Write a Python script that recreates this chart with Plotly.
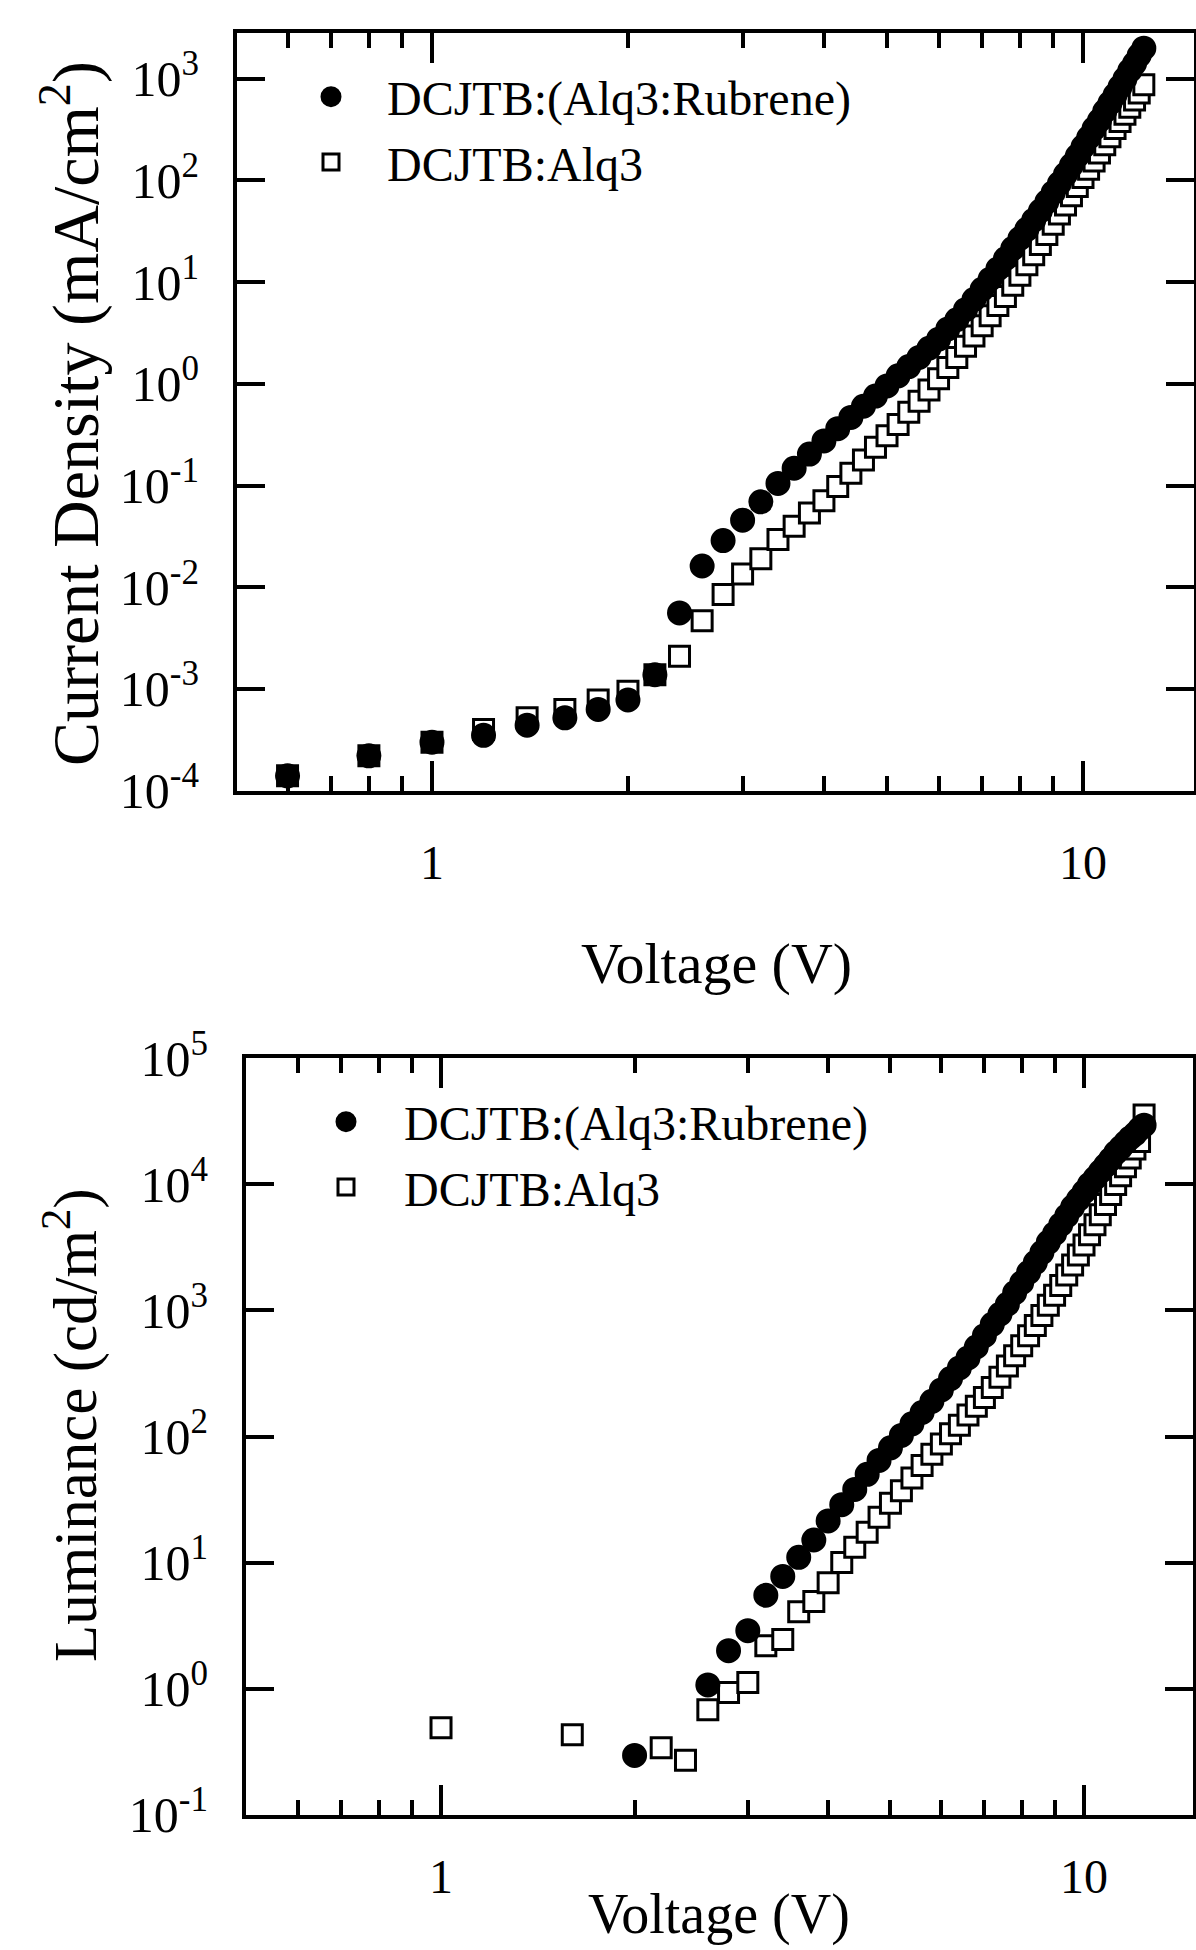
import plotly.graph_objects as go

# ---------------- data ----------------
# Current density vs voltage
volt_j = [0.6, 0.8, 1.0, 1.2, 1.4, 1.6, 1.8, 2.0, 2.2, 2.4, 2.6, 2.8, 3.0, 3.2, 3.4,
          3.6, 3.8, 4.0, 4.2, 4.4, 4.6, 4.8, 5.0, 5.2, 5.4, 5.6, 5.8, 6.0, 6.2, 6.4,
          6.6, 6.8, 7.0, 7.2, 7.4, 7.6, 7.8, 8.0, 8.2, 8.4, 8.6, 8.8, 9.0, 9.2, 9.4,
          9.6, 9.8, 10.0, 10.2, 10.4, 10.6, 10.8, 11.0, 11.2, 11.4, 11.6, 11.8, 12.0,
          12.2, 12.4]

j_rubrene = [1.4e-4, 2.2e-4, 3.0e-4, 3.5e-4, 4.4e-4, 5.2e-4, 6.3e-4, 7.8e-4, 1.38e-3,
             5.6e-3, 0.0162, 0.0288, 0.0457, 0.0692, 0.105, 0.148, 0.204, 0.275, 0.363,
             0.468, 0.603, 0.759, 0.955, 1.20, 1.48, 1.82, 2.24, 2.75, 3.47, 4.27, 5.37,
             6.76, 8.51, 10.7, 13.5, 17.0, 21.4, 26.9, 33.1, 40.7, 50.1, 61.7, 75.9,
             93.3, 115, 141, 174, 214, 263, 324, 389, 479, 575, 692, 832, 1000, 1200,
             1410, 1700, 2000]

j_alq3 = [1.4e-4, 2.2e-4, 3.0e-4, 4.0e-4, 5.2e-4, 6.3e-4, 7.8e-4, 9.5e-4, 1.38e-3,
          2.1e-3, 4.7e-3, 8.5e-3, 0.0135, 0.0191, 0.0295, 0.0398, 0.0537, 0.0708,
          0.0980, 0.132, 0.178, 0.238, 0.309, 0.398, 0.525, 0.676, 0.871, 1.12, 1.45,
          1.82, 2.34, 2.95, 3.72, 4.68, 5.89, 7.24, 9.33, 11.7, 14.8, 18.6, 23.4, 29.5,
          37.2, 46.8, 57.5, 70.8, 87.1, 107, 129, 155, 186, 224, 269, 324, 380, 447,
          525, 617, 724, 871]

# Luminance vs voltage
volt_l_rubrene = [2.0, 2.6, 2.8, 3.0, 3.2, 3.4, 3.6, 3.8, 4.0, 4.2, 4.4, 4.6, 4.8, 5.0,
                  5.2, 5.4, 5.6, 5.8, 6.0, 6.2, 6.4, 6.6, 6.8, 7.0, 7.2, 7.4, 7.6, 7.8,
                  8.0, 8.2, 8.4, 8.6, 8.8, 9.0, 9.2, 9.4, 9.6, 9.8, 10.0, 10.2, 10.4,
                  10.6, 10.8, 11.0, 11.2, 11.4, 11.6, 11.8, 12.0, 12.2, 12.4]
l_rubrene = [0.295, 1.07, 2.0, 2.88, 5.5, 7.76, 11.0, 15.1, 21.4, 28.8, 38.0, 50.1,
             64.6, 81.3, 102, 126, 155, 190, 234, 288, 350, 420, 513, 631, 776, 933,
             1120, 1380, 1660, 2000, 2400, 2880, 3470, 4070, 4790, 5620, 6610, 7590,
             8710, 10000, 11200, 12600, 14100, 15800, 17800, 19500, 21400, 23400,
             25100, 27500, 29500]

volt_l_alq3 = [1.0, 1.6, 2.2, 2.4, 2.6, 2.8, 3.0, 3.2, 3.4, 3.6, 3.8, 4.0, 4.2, 4.4,
               4.6, 4.8, 5.0, 5.2, 5.4, 5.6, 5.8, 6.0, 6.2, 6.4, 6.6, 6.8, 7.0, 7.2,
               7.4, 7.6, 7.8, 8.0, 8.2, 8.4, 8.6, 8.8, 9.0, 9.2, 9.4, 9.6, 9.8, 10.0,
               10.2, 10.4, 10.6, 10.8, 11.0, 11.2, 11.4, 11.6, 11.8, 12.0, 12.2, 12.4]
l_alq3 = [0.49, 0.43, 0.34, 0.27, 0.68, 0.93, 1.12, 2.19, 2.45, 4.07, 4.9, 6.9, 10.0,
          13.2, 17.4, 22.9, 29.5, 37.2, 46.8, 58.9, 72.4, 87.1, 105, 123, 148, 174,
          204, 245, 295, 363, 437, 525, 631, 759, 912, 1100, 1320, 1580, 1910, 2290,
          2750, 3310, 3980, 4790, 5750, 6920, 8320, 10000, 11700, 13800, 16200, 19100,
          21900, 35500]

name_rubrene = "DCJTB:(Alq3:Rubrene)"
name_alq3 = "DCJTB:Alq3"

x_tickvals = [1, 10]
x_ticktext = ["1", "10"]
x_minor_vals = [0.6, 0.7, 0.8, 0.9, 2, 3, 4, 5, 6, 7, 8, 9]

j_tickvals = [1e-4, 1e-3, 1e-2, 1e-1, 1e0, 1e1, 1e2, 1e3]
j_ticktext = ["10<sup>-4</sup>", "10<sup>-3</sup>", "10<sup>-2</sup>", "10<sup>-1</sup>",
              "10<sup>0</sup>", "10<sup>1</sup>", "10<sup>2</sup>", "10<sup>3</sup>"]
l_tickvals = [1e-1, 1e0, 1e1, 1e2, 1e3, 1e4, 1e5]
l_ticktext = ["10<sup>-1</sup>", "10<sup>0</sup>", "10<sup>1</sup>", "10<sup>2</sup>",
              "10<sup>3</sup>", "10<sup>4</sup>", "10<sup>5</sup>"]

# ---------------- styling ----------------
FONT = "Liberation Serif, Times New Roman, serif"
W, H = 1196, 1950

circle_marker = dict(symbol="circle", size=20, color="black",
                     line=dict(color="black", width=5))
square_marker = dict(symbol="square", size=20, color="white",
                     line=dict(color="black", width=3))

fig = go.Figure()

# top panel (squares first so circles sit on top)
fig.add_trace(go.Scatter(x=volt_j, y=j_alq3, mode="markers", name=name_alq3,
                         marker=square_marker, xaxis="x", yaxis="y",
                         legend="legend", legendrank=2))
fig.add_trace(go.Scatter(x=volt_j, y=j_rubrene, mode="markers", name=name_rubrene,
                         marker=circle_marker, xaxis="x", yaxis="y",
                         legend="legend", legendrank=1))
# bottom panel
fig.add_trace(go.Scatter(x=volt_l_alq3, y=l_alq3, mode="markers", name=name_alq3,
                         marker=square_marker, xaxis="x2", yaxis="y2",
                         legend="legend2", legendrank=2))
fig.add_trace(go.Scatter(x=volt_l_rubrene, y=l_rubrene, mode="markers",
                         name=name_rubrene, marker=circle_marker, xaxis="x2",
                         yaxis="y2", legend="legend2", legendrank=1))


def xaxis_style(domain, rng, anchor, standoff):
    return dict(type="log", domain=domain, range=rng, anchor=anchor,
                automargin=False,
                tickvals=x_tickvals, ticktext=x_ticktext,
                ticks="inside", ticklen=30, tickwidth=4, tickcolor="black",
                showline=True, linewidth=4, linecolor="black", mirror="ticks",
                showgrid=False, zeroline=False,
                ticklabelstandoff=standoff,
                tickfont=dict(family=FONT, size=48, color="black"),
                minor=dict(tickvals=x_minor_vals, ticks="inside", ticklen=15,
                           tickwidth=4, tickcolor="black", showgrid=False))


def yaxis_style(domain, rng, tv, tt, anchor):
    return dict(type="log", domain=domain, range=rng, anchor=anchor,
                automargin=False,
                tickvals=tv, ticktext=tt,
                ticks="inside", ticklen=28, tickwidth=4, tickcolor="black",
                showline=True, linewidth=4, linecolor="black", mirror="ticks",
                showgrid=False, zeroline=False,
                ticklabelstandoff=24,
                tickfont=dict(family=FONT, size=50, color="black"))


top_dom_x = [237 / W, 1194 / W]
top_dom_y = [(H - 791) / H, (H - 33) / H]
bot_dom_x = [246 / W, 1193 / W]
bot_dom_y = [(H - 1815) / H, (H - 1058) / H]

legend_common = dict(font=dict(family=FONT, size=48, color="black"),
                     bgcolor="rgba(0,0,0,0)", borderwidth=0, tracegroupgap=0,
                     itemsizing="trace", xanchor="left", yanchor="top",
                     traceorder="normal")

fig.update_layout(
    width=W, height=H,
    margin=dict(l=0, r=0, t=0, b=0, autoexpand=False),
    paper_bgcolor="white", plot_bgcolor="white",
    font=dict(family=FONT, color="black"),
    xaxis=xaxis_style(top_dom_x, [-0.2995, 1.1705], "y", 26),
    yaxis=yaxis_style(top_dom_y, [-4.003, 3.45], j_tickvals, j_ticktext, "x"),
    xaxis2=xaxis_style(bot_dom_x, [-0.3033, 1.1695], "y2", 16),
    yaxis2=yaxis_style(bot_dom_y, [-1.003, 5.003], l_tickvals, l_ticktext, "x2"),
    showlegend=True,
    legend=dict(x=275 / W, y=(H - 59) / H, itemwidth=102, **legend_common),
    legend2=dict(x=288 / W, y=(H - 1084) / H, itemwidth=106, **legend_common),
    annotations=[
        dict(text="Voltage (V)", x=716 / W, y=(H - 963) / H, xref="paper",
             yref="paper", showarrow=False, xanchor="center", yanchor="middle",
             font=dict(family=FONT, size=58, color="black")),
        dict(text="Voltage (V)", x=719 / W, y=(H - 1948) / H, xref="paper",
             yref="paper", showarrow=False, xanchor="center", yanchor="bottom",
             font=dict(family=FONT, size=56, color="black")),
        dict(text="Current Density (mA/cm<sup>2</sup>)", x=71 / W,
             y=(H - 414) / H, xref="paper", yref="paper", showarrow=False,
             textangle=-90, xanchor="center", yanchor="middle",
             font=dict(family=FONT, size=66, color="black")),
        dict(text="Luminance (cd/m<sup>2</sup>)", x=71 / W, y=(H - 1425) / H,
             xref="paper", yref="paper", showarrow=False, textangle=-90,
             xanchor="center", yanchor="middle",
             font=dict(family=FONT, size=61, color="black")),
    ],
)

fig.write_html("out.html", config={"displayModeBar": False},
               post_script="document.body.style.margin='0';")
